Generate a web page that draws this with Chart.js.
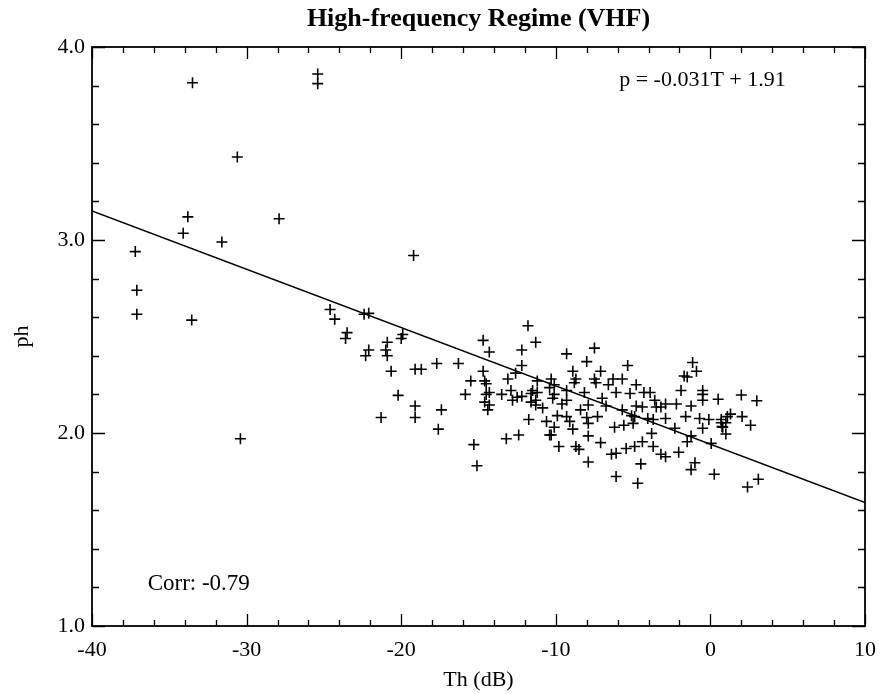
<!DOCTYPE html>
<html>
<head>
<meta charset="utf-8">
<script src="https://cdn.jsdelivr.net/npm/chart.js@4/dist/chart.umd.min.js"></script>
<style>
  html, body { margin: 0; padding: 0; background: #ffffff; }
  #wrap { width: 888px; height: 694px; position: relative; }
</style>
</head>
<body>
<div id="wrap"><canvas id="c" width="888" height="694"></canvas></div>
<script>
// ---- Data ----
const chartTitle = "High-frequency Regime (VHF)";
const xAxisLabel = "Th (dB)";
const yAxisLabel = "ph";
const fitText = "p = -0.031T + 1.91";
const corrText = "Corr: -0.79";

const xTickValues = [-40, -30, -20, -10, 0, 10];
const yTickValues = [1.0, 2.0, 3.0, 4.0];

// Th (dB) values of the scatter points
const thValues = [
  -37.2, -37.1, -37.1, -33.8, -34.1, -33.5, -33.55, -31.6, -30.6, -30.4, -27.9, -25.4, -25.4,
  -24.6, -24.3, -23.5, -23.6, -22.4, -22.1, -19.9, -20.0, -20.9, -22.1, -22.3, -21.0, -20.9,
  -20.65, -19.1, -18.7, -20.2, -19.1, -19.1, -21.3, -19.2, -17.7, -16.3, -17.4, -17.6,
  -11.8, -11.3, -14.7, -14.3, -12.2, -12.2, -14.7, -15.5, -14.6, -14.5, -13.1, -12.6, -14.3,
  -15.85, -13.5, -12.9, -12.5, -12.8, -14.6, -14.3, -14.4, -11.6, -11.6, -11.3, -11.75, -12.4,
  -13.2, -15.3, -15.1, -14.5, -12.2, -11.5, -10.3, -10.4, -10.1, -10.3,
  -7.5, -9.3, -8.0, -5.35, -8.9, -7.1, -8.7, -7.5, -6.3, -5.7, -11.2, -10.1, -8.8, -7.4, -6.1,
  -11.2, -9.3, -8.15, -5.2, -10.2, -7.0, -11.3, -9.3, -7.9, -10.85, -6.75, -5.7, -9.9, -9.3,
  -8.0, -5.1, -7.3, -9.1, -7.9, -6.2, -5.6, -10.1, -8.9, -10.4, -7.9, -7.1, -9.8, -8.7, -8.5,
  -6.4, -6.1, -5.45, -7.9, -6.1, -9.6, -8.4, -6.6, -10.6,
  -1.15, -0.9, -1.7, -1.5, -1.9, -0.5, -0.5, -0.5, 0.5, -4.8, -4.3, -3.9, -3.6, -2.2, -1.25,
  -4.8, -4.4, -3.5, -3.2, -2.9, -4.9, -4.05, -3.7, -2.9, -1.6, -0.7, -0.1, 0.7, 1.1, -5.0,
  -2.3, 0.8, 1.0, -3.8, -1.25, -1.5, 0.05, -4.4, -4.9, -3.7, -3.2, -2.9, -2.05, -1.0, -1.25,
  -4.5, 0.25, -4.7,
  2.0, 3.0, 1.3, 2.05, 2.6, 0.7, 1.0, 0.75, -0.5, 2.4, 3.1
];

// ph values of the scatter points (same order)
const phValues = [
  2.94, 2.74, 2.615, 3.12, 3.035, 3.815, 2.585, 2.99, 3.43, 1.97, 3.11, 3.86, 3.81,
  2.64, 2.59, 2.52, 2.49, 2.615, 2.62, 2.51, 2.49, 2.47, 2.43, 2.40, 2.43, 2.40,
  2.32, 2.33, 2.33, 2.195, 2.14, 2.08, 2.08, 2.92, 2.36, 2.36, 2.12, 2.02,
  2.556, 2.47, 2.48, 2.42, 2.43, 2.35, 2.32, 2.27, 2.27, 2.255, 2.28, 2.31, 2.21,
  2.20, 2.20, 2.22, 2.185, 2.17, 2.16, 2.145, 2.12, 2.205, 2.16, 2.145, 2.07, 1.99,
  1.97, 1.94, 1.83, 2.20, 2.19, 2.22, 2.28, 2.235, 2.20, 1.99,
  2.44, 2.41, 2.37, 2.35, 2.32, 2.32, 2.28, 2.28, 2.28, 2.28, 2.27, 2.25, 2.26, 2.26, 2.21,
  2.21, 2.22, 2.21, 2.205, 2.18, 2.18, 2.17, 2.17, 2.145, 2.13, 2.14, 2.12, 2.09, 2.085,
  2.08, 2.09, 2.085, 2.06, 2.05, 2.03, 2.04, 2.03, 2.02, 1.99, 1.985, 1.95, 1.93, 1.93, 1.915,
  1.89, 1.895, 1.92, 1.85, 1.775, 2.15, 2.12, 2.25, 2.06,
  2.365, 2.32, 2.295, 2.29, 2.22, 2.22, 2.20, 2.17, 2.175, 2.25, 2.21, 2.21, 2.17, 2.15, 2.14,
  2.14, 2.135, 2.135, 2.135, 2.15, 2.085, 2.075, 2.07, 2.075, 2.085, 2.075, 2.07, 2.07, 2.085, 2.05,
  2.025, 2.03, 1.995, 1.998, 1.985, 1.955, 1.946, 1.955, 1.93, 1.93, 1.89, 1.877, 1.90, 1.846, 1.81,
  1.84, 1.786, 1.74,
  2.197, 2.167, 2.098, 2.085, 2.04, 2.053, 2.053, 2.033, 2.025, 1.72, 1.76
];

// Fitted line end points as drawn in the picture
const fitLineTh = [-40, 10];
const fitLinePh = [3.15, 1.64];

// ---- Build datasets ----
const scatterPoints = thValues.map((t, i) => ({ x: t, y: phValues[i] }));
const fitPoints = fitLineTh.map((t, i) => ({ x: t, y: fitLinePh[i] }));

const serif = "'Liberation Serif', 'Times New Roman', serif";

const framePlugin = {
  id: 'frameTicks',
  afterDatasetsDraw(chart) {
    const { ctx, chartArea: a, scales } = chart;
    const xs = scales.x, ys = scales.y;
    ctx.save();
    ctx.strokeStyle = '#000';
    ctx.lineWidth = 1.8;
    ctx.strokeRect(a.left, a.top, a.right - a.left, a.bottom - a.top);
    ctx.lineWidth = 1.3;
    ctx.beginPath();
    // x ticks (major every 10, minor every 2), on bottom and top, pointing inward
    for (let v = xs.min; v <= xs.max + 1e-9; v += 2) {
      const px = Math.round(xs.getPixelForValue(v)) + 0.5;
      const len = (Math.abs(v % 10) < 1e-9) ? 12 : 6;
      ctx.moveTo(px, a.bottom); ctx.lineTo(px, a.bottom - len);
      ctx.moveTo(px, a.top); ctx.lineTo(px, a.top + len);
    }
    // y ticks (major every 1, minor every 0.2), on left and right
    for (let k = 0; k <= 15; k++) {
      const v = ys.min + k * 0.2;
      const py = Math.round(ys.getPixelForValue(v)) + 0.5;
      const len = (k % 5 === 0) ? 13 : 7;
      ctx.moveTo(a.left, py); ctx.lineTo(a.left + len, py);
      ctx.moveTo(a.right, py); ctx.lineTo(a.right - len, py);
    }
    ctx.stroke();
    // annotations placed with data coordinates
    ctx.fillStyle = '#000';
    ctx.font = "22px " + serif;
    ctx.textBaseline = 'middle';
    ctx.textAlign = 'left';
    ctx.fillText(fitText, xs.getPixelForValue(-5.9), ys.getPixelForValue(3.83));
    ctx.font = "23px " + serif;
    ctx.fillText(corrText, xs.getPixelForValue(-36.4), ys.getPixelForValue(1.22));
    ctx.restore();
  }
};

new Chart(document.getElementById('c'), {
  type: 'scatter',
  data: {
    datasets: [
      {
        label: 'data',
        data: scatterPoints,
        pointStyle: 'cross',
        pointRadius: 5.5,
        pointBorderWidth: 1.6,
        borderColor: '#000',
        backgroundColor: '#000',
        showLine: false
      },
      {
        label: 'fit',
        type: 'line',
        data: fitPoints,
        borderColor: '#000',
        borderWidth: 1.5,
        pointRadius: 0,
        fill: false,
        tension: 0
      }
    ]
  },
  options: {
    responsive: false,
    animation: false,
    devicePixelRatio: 1,
    layout: { padding: { left: 0, right: 23, top: 0, bottom: 0 } },
    plugins: {
      legend: { display: false },
      tooltip: { enabled: false },
      title: {
        display: true,
        fullSize: false,
        text: chartTitle,
        color: '#000',
        font: { family: serif, size: 26, weight: 'bold', lineHeight: 1.2 },
        padding: { top: 4, bottom: 11.8 }
      }
    },
    scales: {
      x: {
        type: 'linear',
        position: 'bottom',
        min: -40,
        max: 10,
        afterBuildTicks(scale) { scale.ticks = xTickValues.map(v => ({ value: v })); },
        afterFit(scale) { scale.height = 68; },
        grid: { display: false, drawTicks: false },
        border: { display: false },
        ticks: {
          color: '#000',
          padding: 11,
          maxRotation: 0,
          font: { family: serif, size: 22 },
          callback: (v) => String(v)
        },
        title: {
          display: true,
          text: xAxisLabel,
          color: '#000',
          font: { family: serif, size: 22 },
          padding: { top: 0, bottom: 1 }
        }
      },
      y: {
        type: 'linear',
        min: 1.0,
        max: 4.0,
        afterBuildTicks(scale) { scale.ticks = yTickValues.map(v => ({ value: v })); },
        afterFit(scale) { scale.width = 92; },
        grid: { display: false, drawTicks: false },
        border: { display: false },
        ticks: {
          color: '#000',
          padding: 7,
          font: { family: serif, size: 22 },
          callback: (v) => Number(v).toFixed(1)
        },
        title: {
          display: true,
          text: yAxisLabel,
          color: '#000',
          font: { family: serif, size: 22 },
          padding: { top: 9, bottom: 0 }
        }
      }
    }
  },
  plugins: [framePlugin]
});
</script>
</body>
</html>
